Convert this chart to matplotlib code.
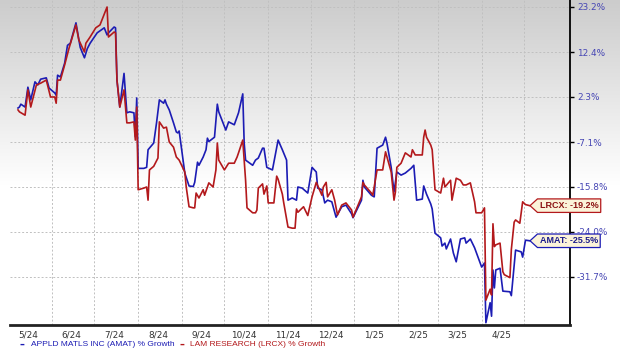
import numpy as np
import pandas as pd
import matplotlib
matplotlib.use("Agg")
import matplotlib.pyplot as plt
import matplotlib.transforms as mtrans
from matplotlib.path import Path

# ---------------- data (% growth) ----------------
amat_dates = ["2024-05-08","2024-05-09","2024-05-10","2024-05-13","2024-05-15","2024-05-17","2024-05-20","2024-05-22",
    "2024-05-24","2024-05-28","2024-05-30","2024-06-03","2024-06-04","2024-06-05","2024-06-07","2024-06-10","2024-06-12",
    "2024-06-14","2024-06-18","2024-06-21","2024-06-24","2024-06-26","2024-06-28","2024-07-03","2024-07-08","2024-07-10",
    "2024-07-11","2024-07-15","2024-07-16","2024-07-17","2024-07-19","2024-07-22","2024-07-24","2024-07-26","2024-07-29",
    "2024-07-30","2024-07-31","2024-08-01","2024-08-05","2024-08-07","2024-08-08","2024-08-12","2024-08-14","2024-08-16",
    "2024-08-19","2024-08-20","2024-08-21","2024-08-23","2024-08-26","2024-08-28","2024-08-29","2024-08-30","2024-09-03",
    "2024-09-06","2024-09-09","2024-09-10","2024-09-12","2024-09-13","2024-09-16","2024-09-18","2024-09-19","2024-09-20",
    "2024-09-24","2024-09-26","2024-09-27","2024-09-30","2024-10-02","2024-10-04","2024-10-08","2024-10-11","2024-10-14",
    "2024-10-15","2024-10-16","2024-10-17","2024-10-21","2024-10-23","2024-10-25","2024-10-28","2024-10-29","2024-10-31",
    "2024-11-04","2024-11-08","2024-11-11","2024-11-14","2024-11-15","2024-11-18","2024-11-21","2024-11-22","2024-11-25",
    "2024-11-29","2024-12-02","2024-12-05","2024-12-06","2024-12-09","2024-12-11","2024-12-13","2024-12-16","2024-12-19",
    "2024-12-23","2024-12-26","2024-12-30","2024-12-31","2025-01-06","2025-01-07","2025-01-08","2025-01-13","2025-01-15",
    "2025-01-17","2025-01-21","2025-01-23","2025-01-24","2025-01-27","2025-01-29","2025-01-31","2025-02-03","2025-02-06",
    "2025-02-10","2025-02-12","2025-02-14","2025-02-18","2025-02-19","2025-02-21","2025-02-24","2025-02-25","2025-02-27",
    "2025-03-03","2025-03-04","2025-03-06","2025-03-07","2025-03-10","2025-03-12","2025-03-14","2025-03-17","2025-03-20",
    "2025-03-21","2025-03-24","2025-03-27","2025-03-31","2025-04-01","2025-04-03","2025-04-04","2025-04-07","2025-04-08",
    "2025-04-09","2025-04-10","2025-04-11","2025-04-14","2025-04-16","2025-04-21","2025-04-22","2025-04-24","2025-04-25",
    "2025-04-29","2025-04-30","2025-05-02","2025-05-05"]
amat_vals = [0.0,0.2,0.8,0.2,4.5,1.7,5.7,5.0,
    6.3,6.6,4.3,3.2,2.7,7.2,6.8,9.9,14.0,
    14.5,19.4,13.5,11.1,13.2,14.5,17.0,18.2,16.5,
    17.0,18.4,18.2,6.1,0.2,7.6,-1.0,-0.8,-1.0,
    -6.0,2.1,-12.2,-12.2,-12.0,-8.6,-7.3,-3.1,1.7,
    1.0,1.7,0.8,-0.4,-3.1,-5.0,-5.2,-4.8,-13.1,
    -15.6,-15.7,-14.9,-11.0,-11.6,-10.0,-8.6,-6.3,-7.0,
    -6.1,0.8,-0.8,-3.1,-4.6,-2.9,-3.5,-1.0,3.0,
    -7.3,-10.6,-10.8,-11.6,-10.6,-10.2,-8.3,-8.3,-12.0,
    -12.5,-6.7,-8.6,-10.6,-18.2,-17.8,-18.2,-15.8,-16.0,
    -16.9,-12.0,-12.9,-16.0,-16.3,-18.7,-18.2,-18.5,-21.3,
    -19.4,-19.1,-20.7,-21.4,-18.2,-14.5,-15.8,-17.3,-17.6,
    -8.3,-7.7,-6.1,-7.3,-12.0,-16.7,-12.9,-13.5,-13.1,
    -12.2,-11.6,-18.2,-18.0,-15.6,-17.1,-18.9,-19.8,-24.2,
    -25.0,-26.4,-25.9,-26.9,-25.2,-27.6,-29.1,-25.2,-25.0,
    -25.9,-25.2,-26.7,-29.3,-30.0,-29.3,-38.8,-35.7,-37.8,
    -30.5,-33.4,-30.5,-30.2,-33.9,-34.0,-34.6,-29.6,-27.1,
    -27.4,-28.3,-25.4,-25.5]

lrcx_dates = ["2024-05-08","2024-05-09","2024-05-13","2024-05-15","2024-05-17","2024-05-21","2024-05-24","2024-05-28",
    "2024-05-31","2024-06-03","2024-06-04","2024-06-05","2024-06-07","2024-06-10","2024-06-13","2024-06-18","2024-06-20",
    "2024-06-24","2024-06-25","2024-06-28","2024-07-02","2024-07-05","2024-07-10","2024-07-11","2024-07-15","2024-07-16",
    "2024-07-17","2024-07-19","2024-07-22","2024-07-24","2024-07-26","2024-07-29","2024-07-30","2024-07-31","2024-08-01",
    "2024-08-05","2024-08-07","2024-08-08","2024-08-09","2024-08-12","2024-08-15","2024-08-16","2024-08-19","2024-08-21",
    "2024-08-23","2024-08-26","2024-08-28","2024-08-30","2024-09-03","2024-09-04","2024-09-06","2024-09-09","2024-09-10",
    "2024-09-11","2024-09-13","2024-09-16","2024-09-17","2024-09-20","2024-09-23","2024-09-25","2024-09-26","2024-09-27",
    "2024-10-01","2024-10-04","2024-10-08","2024-10-10","2024-10-11","2024-10-14","2024-10-16","2024-10-17","2024-10-21",
    "2024-10-23","2024-10-24","2024-10-25","2024-10-28","2024-10-29","2024-10-31","2024-11-01","2024-11-05","2024-11-07",
    "2024-11-08","2024-11-11","2024-11-12","2024-11-15","2024-11-18","2024-11-20","2024-11-21","2024-11-22","2024-11-26",
    "2024-11-29","2024-12-02","2024-12-05","2024-12-09","2024-12-10","2024-12-12","2024-12-13","2024-12-16","2024-12-18",
    "2024-12-20","2024-12-23","2024-12-26","2024-12-30","2024-12-31","2025-01-06","2025-01-07","2025-01-08","2025-01-13",
    "2025-01-14","2025-01-17","2025-01-21","2025-01-23","2025-01-27","2025-01-29","2025-01-30","2025-01-31","2025-02-03",
    "2025-02-06","2025-02-10","2025-02-11","2025-02-13","2025-02-18","2025-02-19","2025-02-20","2025-02-21","2025-02-24",
    "2025-02-25","2025-02-27","2025-03-03","2025-03-05","2025-03-06","2025-03-10","2025-03-11","2025-03-14","2025-03-17",
    "2025-03-19","2025-03-21","2025-03-24","2025-03-27","2025-03-28","2025-04-01","2025-04-03","2025-04-04","2025-04-07",
    "2025-04-08","2025-04-09","2025-04-10","2025-04-11","2025-04-14","2025-04-16","2025-04-17","2025-04-21","2025-04-22",
    "2025-04-24","2025-04-25","2025-04-28","2025-04-30","2025-05-02","2025-05-05"]
lrcx_vals = [-0.4,-0.8,-1.5,3.9,0.2,5.0,5.4,6.1,
    2.3,2.3,1.0,6.1,6.1,9.5,13.2,18.9,15.3,
    12.4,14.5,16.0,18.2,18.9,23.2,16.0,17.2,17.0,
    6.1,0.2,3.9,-3.1,-3.1,-2.9,-6.7,0.2,-16.3,
    -16.0,-15.8,-18.2,-12.5,-11.8,-10.2,-2.9,-4.2,-4.0,
    -7.1,-8.1,-10.0,-10.6,-12.9,-15.8,-19.4,-19.6,-19.6,
    -16.9,-17.8,-16.3,-17.3,-15.0,-15.8,-12.5,-7.3,-10.6,
    -12.5,-11.2,-11.2,-10.0,-9.2,-6.7,-14.5,-19.6,-20.5,
    -20.5,-20.0,-16.0,-15.2,-17.1,-15.6,-18.7,-18.7,-13.7,
    -14.3,-17.1,-18.7,-23.1,-23.3,-23.3,-19.8,-20.4,-19.4,
    -21.0,-17.6,-14.9,-17.3,-15.8,-14.9,-17.6,-16.3,-18.2,
    -20.9,-19.1,-18.7,-20.0,-21.3,-17.6,-14.9,-15.4,-16.9,
    -17.3,-12.5,-12.5,-9.0,-12.9,-18.2,-16.7,-12.0,-11.2,
    -9.2,-10.0,-8.6,-9.6,-9.6,-6.1,-4.6,-6.1,-7.7,
    -8.6,-16.3,-16.9,-14.1,-15.8,-14.5,-18.2,-14.1,-14.5,
    -15.4,-15.4,-15.0,-18.5,-20.5,-20.5,-19.6,-35.3,-33.6,
    -34.5,-22.5,-26.5,-26.2,-25.9,-30.8,-31.3,-31.8,-27.0,
    -22.2,-21.8,-22.4,-18.5,-19.0,-19.2]

ytick_vals = [-31.7, -24.0, -15.8, -7.1, 2.3, 12.4, 23.2]
xtick_labels = ["5/24","6/24","7/24","8/24","9/24","10/24","11/24","12/24","1/25","2/25","3/25","4/25"]
series_names = ["APPLD MATLS INC (AMAT) % Growth", "LAM RESEARCH (LRCX) % Growth"]
tag_names = ["AMAT", "LRCX"]

BLUE = "#1c1cb4"
RED = "#b3191c"
TICKC = "#4646b4"

# --------- axis scale: ticks equally spaced ----------
scale_vals = np.array([-45.0, -38.7] + ytick_vals + [34.7])
scale_pos = np.arange(len(scale_vals)) - 2.0

def fwd(v):
    return np.interp(v, scale_vals, scale_pos)

def inv(p):
    return np.interp(p, scale_pos, scale_vals)

W, H = 620, 356
fig = plt.figure(figsize=(W/100, H/100), dpi=100)

# background gradient (grey at top fading to white around mid-height)
bg = fig.add_axes([0, 0, 1, 1], zorder=-10)
t = np.linspace(0, 1, 356)
col = np.clip(0.80 + 0.20 * t / 0.52, 0, 1)
img = np.repeat(col[:, None, None], 3, axis=2).repeat(2, axis=1)
bg.imshow(img, aspect="auto", extent=[0, 1, 0, 1], origin="upper", interpolation="bilinear")
bg.axis("off")

L, R, B, T = 10/W, 570/W, 1 - 325/H, 1.0
ax = fig.add_axes([L, B, R - L, T - B])
ax.patch.set_alpha(0)

ad = pd.to_datetime(amat_dates)
ld = pd.to_datetime(lrcx_dates)
ax.plot(ad, amat_vals, color=BLUE, lw=1.2, zorder=3, solid_joinstyle="round")
ax.plot(ld, lrcx_vals, color=RED, lw=1.2, zorder=4, solid_joinstyle="round")

ax.set_yscale("function", functions=(fwd, inv))
ax.set_ylim(inv(-(325 - 277) / 45), inv(277 / 45))
ax.set_xlim(pd.Timestamp("2024-05-02 08:00"), pd.Timestamp("2025-06-02 12:00"))

# y axis on right
ax.yaxis.tick_right()
ax.set_yticks(ytick_vals)
ax.set_yticklabels([f"{v:.1f}%" for v in ytick_vals])
ax.tick_params(axis="y", which="major", length=3, width=1, color="black",
               labelsize=6.4, labelcolor=TICKC, pad=2)
ax.yaxis.set_minor_locator(matplotlib.ticker.NullLocator())

# x ticks: labels mid-month, grid at month start
mid = pd.date_range("2024-05-01", periods=12, freq="MS") + pd.Timedelta(days=14)
ax.set_xticks(mid)
ax.set_xticklabels(xtick_labels)
ax.tick_params(axis="x", which="major", length=0, labelsize=6.4, labelcolor="#333333", pad=4)
starts = pd.date_range("2024-06-01", "2025-05-01", freq="MS")
for s in starts:
    ax.axvline(s, color="#c0c0c0", lw=0.7, ls=(0, (2, 2)), zorder=1)
for v in ytick_vals:
    ax.axhline(v, color="#c0c0c0", lw=0.7, ls=(0, (2, 2)), zorder=1)

for s in ["top", "left"]:
    ax.spines[s].set_visible(False)
ax.spines["right"].set_color("black")
ax.spines["right"].set_linewidth(1.3)
ax.spines["bottom"].set_color("#222222")
ax.spines["bottom"].set_linewidth(2.0)

# tag box style: pointed left end
def tag_style(x0, y0, width, height, mutation_size):
    pad = mutation_size * 0.25
    x0, y0 = x0 - pad, y0 - pad
    x1, y1 = x0 + width + 2 * pad, y0 + height + 2 * pad
    ym = (y0 + y1) / 2
    tip = (y1 - y0) * 0.55
    verts = [(x0, y0), (x1, y0), (x1, y1), (x0, y1), (x0 - tip, ym), (x0, y0)]
    codes = [Path.MOVETO] + [Path.LINETO] * 4 + [Path.CLOSEPOLY]
    return Path(verts, codes)

for name, d, v, c, tc in [(tag_names[0], ad[-1], amat_vals[-1], BLUE, "#1c1c8c"),
                          (tag_names[1], ld[-1], lrcx_vals[-1], RED, "#8c1414")]:
    trans = mtrans.offset_copy(ax.transData, fig=fig, x=10, y=0, units="dots")
    ax.text(d, v, f"{name}: {v:.1f}%", transform=trans, fontsize=6.5, fontweight="bold",
            family="Liberation Sans", color=tc, va="center", ha="left", zorder=10, clip_on=False,
            bbox=dict(boxstyle=tag_style, fc="#fbf3d9", ec=c, lw=0.9))

# legend text
ly = 1 - 345/H
fig.text(20/W, ly, "\u2013", color=BLUE, fontsize=7, fontweight="bold", va="center")
fig.text(31/W, ly, series_names[0], color=BLUE, fontsize=6.0, family="Liberation Sans", va="center")
fig.text(180/W, ly, "\u2013", color=RED, fontsize=7, fontweight="bold", va="center")
fig.text(190/W, ly, series_names[1], color=RED, fontsize=6.0, family="Liberation Sans", va="center")

fig.savefig("out.png", dpi=100)
